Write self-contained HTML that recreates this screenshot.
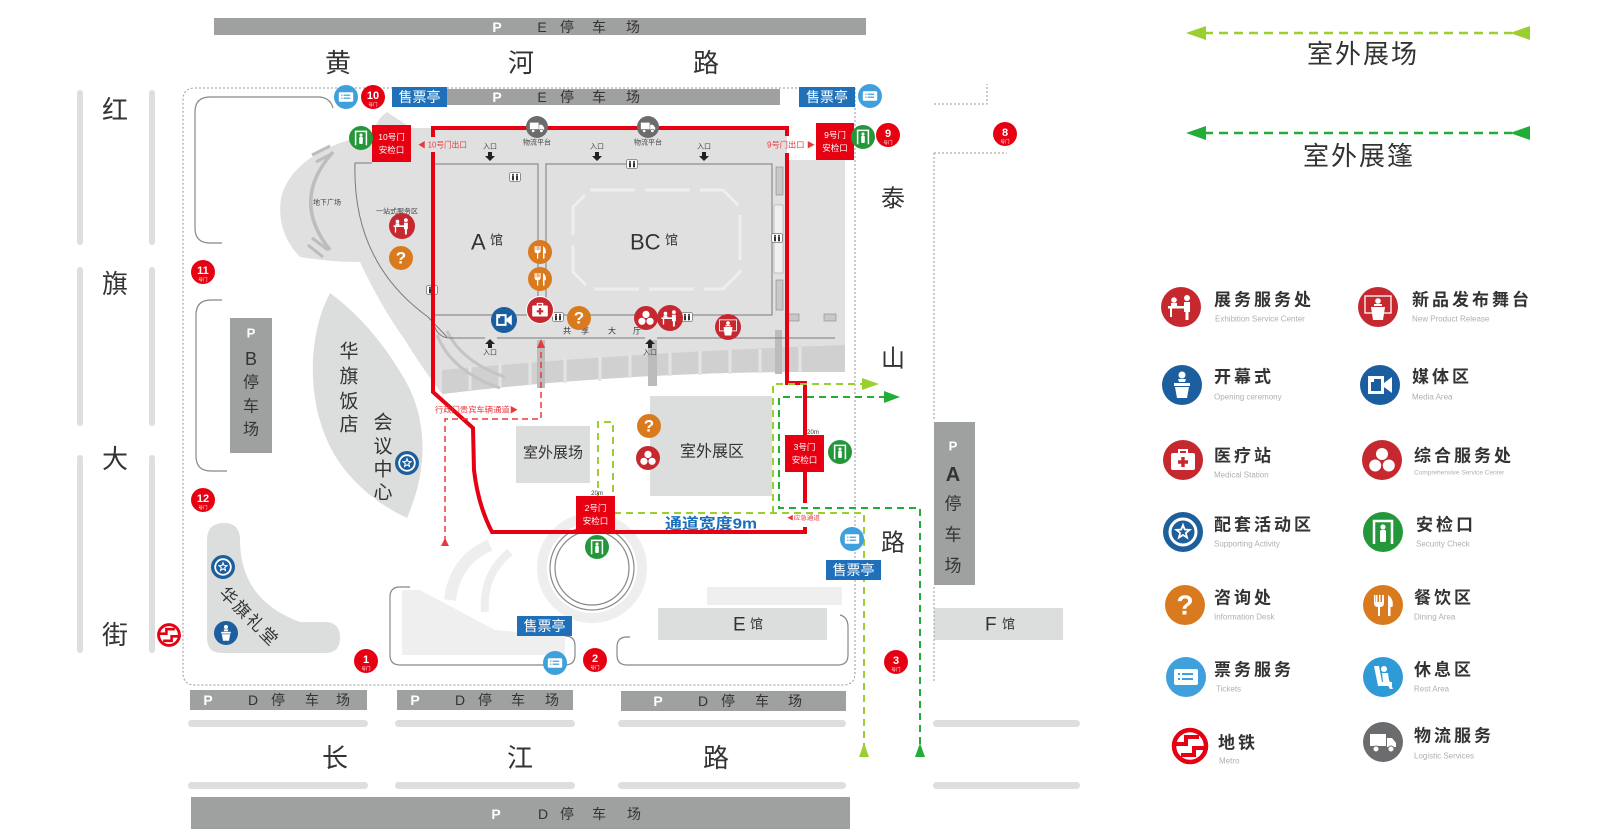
<!DOCTYPE html>
<html><head><meta charset="utf-8"><style>
html,body{margin:0;padding:0;background:#fff;}
svg{display:block;font-family:"Liberation Sans","Noto Sans CJK SC",sans-serif;}
</style></head><body>
<svg width="1600" height="834" viewBox="0 0 1600 834" xmlns="http://www.w3.org/2000/svg">
<defs>
<symbol id="exh" viewBox="-20 -20 40 40"><circle r="20" fill="#c5282e"/><rect x="-13" y="-1" width="17" height="2.5" fill="#fff"/><rect x="-11" y="1" width="2" height="9" fill="#fff"/><circle cx="-7" cy="-7" r="2.8" fill="#fff"/><path d="M-10 -4 h6 v3 h-6z" fill="#fff"/><circle cx="6" cy="-9" r="3" fill="#fff"/><path d="M3 -5 h6 v10 h-1.5 v8 h-3 v-8 h-1.5z" fill="#fff"/></symbol>
<symbol id="stage" viewBox="-20 -20 40 40"><circle r="20" fill="#c5282e"/><rect x="-13" y="-11" width="26" height="17" fill="none" stroke="#fff" stroke-width="1.3"/><circle cy="-6" r="2.8" fill="#fff"/><path d="M-4 -3 h8 v2 h-8z" fill="#fff"/><path d="M-7 0 H7 L5 13 H-5Z" fill="#fff"/></symbol>
<symbol id="open" viewBox="-20 -20 40 40"><circle r="20" fill="#1d5e9e"/><circle cy="-10" r="3.5" fill="#fff"/><path d="M-4 -6 L4 -6 L3 -3 H-3Z" fill="#fff"/><path d="M-8 -2 H8 V1 H-8Z" fill="#fff"/><path d="M-7 2 H7 L5 13 H-5Z" fill="#fff"/></symbol>
<symbol id="media" viewBox="-20 -20 40 40"><circle r="20" fill="#1b5e9f"/><rect x="-12" y="-9" width="16" height="18" fill="#fff"/><rect x="-9" y="-6" width="10" height="12" fill="#1b5e9f"/><rect x="-9" y="-6" width="3" height="3" fill="#fff"/><path d="M4 -2 L12 -8 V8 L4 2Z" fill="#fff"/></symbol>
<symbol id="med" viewBox="-20 -20 40 40"><circle r="20" fill="#c5282e"/><path d="M-4 -7 V-10 H4 V-7" fill="none" stroke="#fff" stroke-width="2"/><rect x="-12" y="-7" width="24" height="17" rx="2" fill="#fff"/><path d="M-1.7 -3 h3.4 v3.3 h3.3 v3.4 h-3.3 v3.3 h-3.4 v-3.3 h-3.3 v-3.4 h3.3z" fill="#c5282e"/></symbol>
<symbol id="comp" viewBox="-20 -20 40 40"><circle r="20" fill="#c5282e"/><g fill="#fff" stroke="#c5282e" stroke-width="1"><circle cy="-6" r="6.5"/><circle cx="-6.8" cy="5.5" r="6.5"/><circle cx="6.8" cy="5.5" r="6.5"/></g></symbol>
<symbol id="star" viewBox="-20 -20 40 40"><circle r="20" fill="#1d5e9c"/><circle r="13" fill="none" stroke="#fff" stroke-width="3"/><polygon points="0,-7 1.76,-2.43 6.66,-2.16 2.85,0.93 4.11,5.66 0,3 -4.11,5.66 -2.85,0.93 -6.66,-2.16 -1.76,-2.43" fill="none" stroke="#fff" stroke-width="1.8"/></symbol>
<symbol id="sec" viewBox="-20 -20 40 40"><circle r="20" fill="#25973b"/><path d="M-9 12 V-11 H9 V12" fill="none" stroke="#fff" stroke-width="2.5"/><circle cy="-5" r="2.6" fill="#fff"/><rect x="-3" y="-2" width="6" height="12" rx="1.5" fill="#fff"/></symbol>
<symbol id="qc" viewBox="-20 -20 40 40"><circle r="20" fill="#d97a1f"/></symbol>
<symbol id="dine" viewBox="-20 -20 40 40"><circle r="20" fill="#d97a1f"/><path d="M-9 -10 V-2 Q-9 2 -5 2 V11 H-3 V2 Q1 2 1 -2 V-10 H-1 V-3 H-2.5 V-10 H-4 V-3 H-5.5 V-10 H-7 V-3 H-7.5 V-10Z" fill="#fff"/><path d="M5 -10 Q11 -6 9.5 2 H7.5 V11 H5 Z" fill="#fff"/></symbol>
<symbol id="tick" viewBox="-20 -20 40 40"><circle r="20" fill="#3fa0db"/><rect x="-12" y="-8" width="24" height="16" rx="2" fill="#fff"/><g fill="#3fa0db"><rect x="-8" y="-4" width="2" height="2"/><rect x="-8" y="1" width="2" height="2"/><rect x="-4" y="-4" width="11" height="2"/><rect x="-4" y="1" width="11" height="2"/></g></symbol>
<symbol id="rest" viewBox="-20 -20 40 40"><circle r="20" fill="#2e9bd6"/><path d="M-9 -11 L-5 9 H9 V5 H-1 L-4 -11Z" fill="#fff"/><circle cx="1" cy="-8" r="3" fill="#fff"/><path d="M-1 -4 L5 -4 L6 3 L10 12 H7 L3 5 H0Z" fill="#fff"/></symbol>
<symbol id="truck" viewBox="-20 -20 40 40"><circle r="20" fill="#6b6c6e"/><rect x="-13" y="-8" width="16" height="12" fill="#fff"/><path d="M4 -4 H9 L13 1 V5 H4Z" fill="#fff"/><circle cx="-7" cy="7" r="3" fill="#fff" stroke="#6b6c6e" stroke-width="1"/><circle cx="8" cy="7" r="3" fill="#fff" stroke="#6b6c6e" stroke-width="1"/></symbol>
<symbol id="metro" viewBox="-20 -20 40 40"><circle r="16" fill="#fff" stroke="#e60012" stroke-width="4.5"/><path d="M-18 -2 H-4 V-9 H9" fill="none" stroke="#e60012" stroke-width="4"/><path d="M18 2 H4 V9 H-9" fill="none" stroke="#e60012" stroke-width="4"/></symbol>
<symbol id="wc" viewBox="-6 -5 12 10"><rect x="-5.5" y="-4.5" width="11" height="9" rx="2" fill="#fff" stroke="#777" stroke-width="0.8"/><g fill="#333"><circle cx="-2" cy="-2.3" r="1"/><rect x="-3" y="-1.2" width="2" height="4.5"/><circle cx="2" cy="-2.3" r="1"/><rect x="1" y="-1.2" width="2" height="4.5"/></g></symbol>
</defs>
<rect width="1600" height="834" fill="#fff"/>

<!-- top parking -->
<rect x="214" y="18" width="652" height="17" fill="#9fa0a0"/>
<g font-size="14" fill="#333" text-anchor="middle" dominant-baseline="central">
<text x="497" y="27" fill="#fff" font-weight="bold">P</text><text x="542" y="27">E</text><text x="567" y="27">停</text><text x="599" y="27">车</text><text x="633" y="27">场</text>
</g>

<!-- road names -->
<g font-size="26" fill="#333" text-anchor="middle" dominant-baseline="central">
<text x="338" y="63">黄</text><text x="521" y="63">河</text><text x="706" y="63">路</text>
<text x="115" y="110">红</text><text x="115" y="284">旗</text><text x="115" y="459">大</text><text x="115" y="635">街</text>
<text x="335" y="758">长</text><text x="520" y="758">江</text><text x="716" y="758">路</text>
<text x="893" y="199" font-size="24">泰</text><text x="893" y="359" font-size="24">山</text><text x="893" y="543" font-size="24">路</text>
</g>

<!-- left road bars -->
<g fill="#dedede">
<rect x="77" y="90" width="6" height="155" rx="3"/><rect x="77" y="267" width="6" height="159" rx="3"/><rect x="77" y="455" width="6" height="198" rx="3"/>
<rect x="149" y="90" width="6" height="155" rx="3"/><rect x="149" y="267" width="6" height="159" rx="3"/><rect x="149" y="455" width="6" height="198" rx="3"/>
<rect x="188" y="720" width="180" height="7" rx="3.5"/><rect x="395" y="720" width="180" height="7" rx="3.5"/><rect x="618" y="720" width="228" height="7" rx="3.5"/><rect x="933" y="720" width="147" height="7" rx="3.5"/>
<rect x="188" y="782" width="180" height="7" rx="3.5"/><rect x="395" y="782" width="180" height="7" rx="3.5"/><rect x="618" y="782" width="228" height="7" rx="3.5"/><rect x="933" y="782" width="147" height="7" rx="3.5"/>
</g>

<!-- main gray region -->
<path d="M372 132 L380 118 L387 112 L396 118 L411 128 L787 128 L787 160 L845 160 L845 372 Q640 370 442 394 Q420 365 405 340 Q380 305 360 262 Q330 262 300 257 Q276 232 281 198 Q290 162 340 143 Z" fill="#e0e0e0"/>
<path d="M333 152 Q290 200 330 250" fill="none" stroke="#bdbdbd" stroke-width="3.5"/>
<path d="M312 155 L330 146 M316 162 L333 153 M312 238 L328 250 M308 245 L323 257" stroke="#bdbdbd" stroke-width="3"/>
<!-- steps band -->
<path d="M442 370 Q640 352 845 345 L845 372 Q640 370 442 394 Z" fill="#d0d0d0"/>
<g stroke="#e4e4e4" stroke-width="3">
<path d="M470 366 V390 M500 363 V387 M530 360 V385 M565 358 V383 M600 356 V381 M630 354 V378 M670 352 V376 M700 351 V375 M730 350 V374 M760 349 V373 M800 347 V372"/>
</g>
<path d="M437 335 Q452 372 500 388 M447 331 Q462 362 505 377" fill="none" stroke="#c4c4c4" stroke-width="3"/>
<g fill="#bcbcbc"><rect x="537" y="340" width="8" height="48"/><rect x="648" y="340" width="9" height="46"/><rect x="775" y="330" width="7" height="44"/></g>

<!-- halls outlines -->
<g fill="none" stroke="#7a7a7a" stroke-width="1">
<path d="M435 164 H538 V315"/>
<rect x="546" y="164" width="226" height="151"/>
<path d="M433 315 H772"/>
<path d="M433 322 Q437 338 450 338 H485 M497 338 H645 M657 338 H835"/>
<path d="M372 163 H355 Q352 262 428 317 L447 337"/>
</g>
<path d="M590 190 H723 L740 207 V272 L723 289 H590 L573 272 V207 Z" fill="none" stroke="#eeeeee" stroke-width="3" stroke-dasharray="45 10"/>
<g fill="#c8c8c8" stroke="#888" stroke-width="0.6"><rect x="776" y="167" width="7" height="28"/><rect x="776" y="280" width="7" height="30"/><rect x="787" y="314" width="12" height="7"/><rect x="824" y="314" width="12" height="7"/></g>
<rect x="774" y="205" width="9" height="68" fill="#efefef" stroke="#999" stroke-width="0.5"/>

<!-- small texts -->
<g font-size="7" fill="#444" text-anchor="middle" dominant-baseline="central">
<text x="327" y="203">地下广场</text><text x="397" y="212">一站式服务区</text>
<text x="537" y="143">物流平台</text><text x="648" y="143">物流平台</text>
<text x="490" y="147">入口</text><text x="597" y="147">入口</text><text x="704" y="147">入口</text>
<text x="490" y="353">入口</text><text x="650" y="353">入口</text>
</g>
<g font-size="8" fill="#333" text-anchor="middle" dominant-baseline="central">
<text x="567" y="331">共</text><text x="585" y="331">享</text><text x="612" y="331">大</text><text x="637" y="331">厅</text>
</g>
<g fill="#222">
<polygon points="488,152 492,152 492,156 495,156 490,161 485,156 488,156"/>
<polygon points="595,152 599,152 599,156 602,156 597,161 592,156 595,156"/>
<polygon points="702,152 706,152 706,156 709,156 704,161 699,156 702,156"/>
<polygon points="490,339 495,344 492,344 492,348 488,348 488,344 485,344"/>
<polygon points="650,339 655,344 652,344 652,348 648,348 648,344 645,344"/>
</g>
<g>
<use href="#wc" x="509" y="172" width="12" height="10"/><use href="#wc" x="626" y="159" width="12" height="10"/><use href="#wc" x="426" y="285" width="12" height="10"/><use href="#wc" x="552" y="312" width="12" height="10"/><use href="#wc" x="681" y="312" width="12" height="10"/><use href="#wc" x="771" y="233" width="12" height="10"/>
</g>
<g font-size="18" fill="#333" dominant-baseline="central">
<text x="471" y="242" font-size="22">A</text><text x="490" y="240" font-size="13">馆</text>
<text x="630" y="242" font-size="22">BC</text><text x="665" y="240" font-size="13">馆</text>
</g>

<!-- leaf hotel -->
<path d="M330 293 C305 340 305 420 345 470 C365 495 390 510 407 518 C428 470 428 420 405 380 C385 345 360 315 330 293 Z" fill="#dcdddd"/>
<g font-size="19" fill="#333" text-anchor="middle" dominant-baseline="central">
<text x="349" y="352">华</text><text x="349" y="377">旗</text><text x="349" y="402">饭</text><text x="349" y="425">店</text>
<text x="383" y="423">会</text><text x="383" y="447">议</text><text x="383" y="470">中</text><text x="383" y="493">心</text>
</g>

<!-- 华旗礼堂 -->
<path d="M207 540 Q207 523 224 523 Q240 523 240 540 Q240 600 300 622 H325 Q340 622 340 638 Q340 653 325 653 H222 Q207 653 207 638 Z" fill="#dcdddd"/>
<text transform="translate(249,617) rotate(45)" font-size="17" fill="#333" text-anchor="middle" dominant-baseline="central" letter-spacing="2">华旗礼堂</text>

<!-- brackets -->
<g fill="none" stroke="#888" stroke-width="1.2">
<path d="M333 108 Q330 97 318 97 H210 Q195 97 195 112 V228 Q195 243 210 243 H222"/>
<path d="M222 300 H211 Q196 300 196 315 V456 Q196 471 211 471 H227"/>
<path d="M410 587 H400 Q390 587 390 597 V655 Q390 665 400 665 H565 Q575 665 575 655 V646 Q575 636 565 636"/>
<path d="M630 637 H627 Q617 637 617 647 V655 Q617 665 627 665 H838 Q848 665 848 655 V627 Q848 617 840 615"/>
</g>

<!-- light swirl shapes -->
<path d="M402 590 L420 590 L495 630 L565 636 L565 655 L402 655 Z" fill="#efefef"/>
<g fill="none" stroke="#eeeeee">
<path d="M490 545 Q455 560 450 600" stroke-width="12"/>
<path d="M510 552 Q482 575 485 612" stroke-width="8"/>
<circle cx="592" cy="568" r="50" stroke-width="10"/>
</g>
<circle cx="592" cy="568" r="42" fill="#fff" stroke="#888" stroke-width="1.2"/>
<circle cx="592" cy="568" r="37" fill="none" stroke="#888" stroke-width="1.2"/>

<!-- outdoor boxes -->
<rect x="516" y="426" width="74" height="57" fill="#dcdddd"/>
<rect x="650" y="396" width="122" height="100" fill="#dcdddd"/>
<g font-size="15" fill="#333" text-anchor="middle" dominant-baseline="central">
<text x="553" y="453">室外展场</text><text x="712" y="452" font-size="16">室外展区</text>
</g>

<!-- E/F halls -->
<rect x="707" y="587" width="135" height="18" fill="#efefef"/>
<rect x="658" y="608" width="169" height="32" fill="#dcdddd"/>
<rect x="934" y="608" width="129" height="32" fill="#dcdddd"/>
<g fill="#333" dominant-baseline="central">
<text x="733" y="625" font-size="19">E</text><text x="750" y="624" font-size="13">馆</text>
<text x="985" y="625" font-size="19">F</text><text x="1002" y="624" font-size="13">馆</text>
</g>

<!-- boundary dotted -->
<g fill="none" stroke="#999" stroke-width="1" stroke-dasharray="2 2">
<path d="M195 88 H855 V673 Q855 685 843 685 H195 Q183 685 183 673 V100 Q183 88 195 88"/>
<path d="M934 104 H987 V84"/>
<path d="M934 153 H1007 M934 153 V420 M934 587 V683"/>
</g>

<!-- second top parking -->
<rect x="447" y="89" width="333" height="16" fill="#9fa0a0"/>
<g font-size="14" fill="#333" text-anchor="middle" dominant-baseline="central">
<text x="497" y="97" fill="#fff" font-weight="bold">P</text><text x="542" y="97">E</text><text x="567" y="97">停</text><text x="599" y="97">车</text><text x="633" y="97">场</text>
</g>

<!-- B and A parking -->
<rect x="230" y="318" width="42" height="135" fill="#9fa0a0"/>
<rect x="934" y="422" width="41" height="163" fill="#9fa0a0"/>
<g fill="#333" text-anchor="middle" dominant-baseline="central">
<text x="251" y="333" font-size="13" fill="#fff" font-weight="bold">P</text><text x="251" y="359" font-size="18">B</text><text x="251" y="383" font-size="16">停</text><text x="251" y="407" font-size="16">车</text><text x="251" y="430" font-size="16">场</text>
<text x="953" y="446" font-size="13" fill="#fff" font-weight="bold">P</text><text x="953" y="475" font-size="20" font-weight="bold">A</text><text x="953" y="504" font-size="17">停</text><text x="953" y="535" font-size="17">车</text><text x="953" y="566" font-size="17">场</text>
</g>

<!-- bottom parkings -->
<rect x="190" y="690" width="177" height="20" fill="#9fa0a0"/>
<rect x="397" y="690" width="176" height="20" fill="#9fa0a0"/>
<rect x="621" y="691" width="225" height="20" fill="#9fa0a0"/>
<rect x="191" y="797" width="659" height="32" fill="#9fa0a0"/>
<g font-size="14" fill="#333" text-anchor="middle" dominant-baseline="central">
<text x="208" y="700" fill="#fff" font-weight="bold">P</text><text x="253" y="700">D</text><text x="278" y="700">停</text><text x="312" y="700">车</text><text x="343" y="700">场</text>
<text x="415" y="700" fill="#fff" font-weight="bold">P</text><text x="460" y="700">D</text><text x="485" y="700">停</text><text x="518" y="700">车</text><text x="552" y="700">场</text>
<text x="658" y="701" fill="#fff" font-weight="bold">P</text><text x="703" y="701">D</text><text x="728" y="701">停</text><text x="762" y="701">车</text><text x="795" y="701">场</text>
<text x="496" y="814" fill="#fff" font-weight="bold">P</text><text x="543" y="814">D</text><text x="567" y="814">停</text><text x="599" y="814">车</text><text x="634" y="814">场</text>
</g>

<!-- red route -->
<g fill="none" stroke="#e60012" stroke-width="4">
<path d="M433 137 V128 H787 V136"/>
<path d="M787 153 V383 H805 V503"/>
<path d="M805 527 V532 H492 Q478 505 474 470 L473 428 L433 392 V152"/>
</g>
<!-- VIP dashed -->
<path d="M541 352 V419 H445 V540" fill="none" stroke="#e8383d" stroke-width="1.5" stroke-dasharray="6 4"/>
<polygon points="541,339 537,348 545,348" fill="#e8383d"/>
<polygon points="445,538 441,546 449,546" fill="#e8383d"/>
<g fill="#e8383d" font-size="8" dominant-baseline="central">
<text x="435" y="410" textLength="83" lengthAdjust="spacingAndGlyphs">行政门贵宾车辆通道▶</text>
<text x="418" y="145" textLength="49" lengthAdjust="spacingAndGlyphs">◀ 10号门出口</text>
<text x="767" y="145" textLength="48" lengthAdjust="spacingAndGlyphs">9号门出口 ▶</text>
<text x="787" y="519" font-size="6" textLength="33" lengthAdjust="spacingAndGlyphs">◀应急通道</text>
</g>

<!-- green routes -->
<g fill="none" stroke-width="2" stroke-dasharray="7 5">
<path d="M864 750 V513 H598 V422 H613 V513" stroke="#9bcf2f"/>
<path d="M773 513 V384 H864" stroke="#9bcf2f"/>
<path d="M886 397 H779 V508 H920 V750" stroke="#22ac38"/>
</g>
<polygon points="879,384 862,378 862,390" fill="#9bcf2f"/>
<polygon points="900,397 884,391 884,403" fill="#22ac38"/>
<polygon points="864,743 859,757 869,757" fill="#9bcf2f"/>
<polygon points="920,743 915,757 925,757" fill="#22ac38"/>
<g font-size="6" fill="#333" text-anchor="middle"><text x="813" y="434">20m</text><text x="597" y="495">20m</text></g>
<text x="711" y="524" font-size="15" font-weight="bold" fill="#1a6fba" text-anchor="middle" dominant-baseline="central" textLength="92" lengthAdjust="spacingAndGlyphs">通道宽度9m</text>

<!-- security boxes -->
<g fill="#e60012"><rect x="372" y="125" width="39" height="37"/><rect x="816" y="123" width="38" height="37"/><rect x="785" y="435" width="39" height="37"/><rect x="576" y="496" width="39" height="37"/></g>
<g fill="#fff" font-size="8.5" text-anchor="middle" dominant-baseline="central">
<text x="391.5" y="137">10号门</text><text x="391.5" y="150">安检口</text>
<text x="835" y="135">9号门</text><text x="835" y="148">安检口</text>
<text x="804.5" y="447">3号门</text><text x="804.5" y="460">安检口</text>
<text x="595.5" y="508">2号门</text><text x="595.5" y="521">安检口</text>
</g>

<!-- ticket booths -->
<g fill="#1f70b8"><rect x="392" y="87" width="55" height="20"/><rect x="799" y="87" width="56" height="20"/><rect x="826" y="560" width="55" height="20"/><rect x="517" y="616" width="55" height="20"/></g>
<g fill="#fff" font-size="14" text-anchor="middle" dominant-baseline="central">
<text x="419.5" y="97">售票亭</text><text x="827" y="97">售票亭</text><text x="853.5" y="570">售票亭</text><text x="544.5" y="626">售票亭</text>
</g>

<!-- map icons -->
<use href="#tick" x="334" y="85" width="24" height="24"/><use href="#tick" x="858" y="84" width="24" height="24"/><use href="#tick" x="840" y="527" width="24" height="24"/><use href="#tick" x="543" y="651" width="24" height="24"/>
<use href="#sec" x="349" y="126" width="24" height="24"/><use href="#sec" x="851" y="125" width="24" height="24"/><use href="#sec" x="828" y="440" width="24" height="24"/><use href="#sec" x="585" y="535" width="24" height="24"/>
<use href="#exh" x="389" y="213" width="26" height="26"/><use href="#exh" x="657" y="305" width="26" height="26"/>
<use href="#dine" x="528" y="240" width="24" height="24"/><use href="#dine" x="528" y="267" width="24" height="24"/>
<circle cx="540" cy="310" r="14" fill="#fff"/><use href="#med" x="527" y="297" width="26" height="26"/>
<use href="#media" x="491" y="307" width="26" height="26"/>
<use href="#comp" x="634" y="306" width="24" height="24"/><use href="#comp" x="636" y="446" width="24" height="24"/>
<use href="#stage" x="715" y="314" width="26" height="26"/>
<use href="#star" x="395" y="451" width="24" height="24"/><use href="#star" x="211" y="555" width="24" height="24"/>
<use href="#open" x="214" y="621" width="24" height="24"/>
<use href="#metro" x="156" y="622" width="26" height="26"/>
<use href="#truck" x="526" y="116" width="22" height="22"/><use href="#truck" x="637" y="116" width="22" height="22"/>
<use href="#qc" x="389" y="246" width="24" height="24"/><use href="#qc" x="567" y="306" width="24" height="24"/><use href="#qc" x="637" y="414" width="24" height="24"/>
<g fill="#fff" font-size="17" font-weight="bold" text-anchor="middle" dominant-baseline="central">
<text x="401" y="258">?</text><text x="579" y="318">?</text><text x="649" y="426">?</text>
</g>

<!-- gate circles -->
<g fill="#e60012">
<circle cx="373" cy="97" r="12"/><circle cx="888" cy="135" r="12"/><circle cx="1005" cy="134" r="12"/><circle cx="203" cy="272" r="12"/><circle cx="203" cy="500" r="12"/><circle cx="366" cy="661" r="12"/><circle cx="595" cy="660" r="12"/><circle cx="896" cy="662" r="12"/>
</g>
<g fill="#fff" text-anchor="middle" font-weight="bold" font-size="11">
<text x="373" y="99">10</text><text x="888" y="137">9</text><text x="1005" y="136">8</text><text x="203" y="274">11</text><text x="203" y="502">12</text><text x="366" y="663">1</text><text x="595" y="662">2</text><text x="896" y="664">3</text>
</g>
<g fill="#fff" text-anchor="middle" font-size="4.5">
<text x="373" y="106">号门</text><text x="888" y="144">号门</text><text x="1005" y="143">号门</text><text x="203" y="281">号门</text><text x="203" y="509">号门</text><text x="366" y="670">号门</text><text x="595" y="669">号门</text><text x="896" y="671">号门</text>
</g>

<!-- top-right arrows -->
<path d="M1204 33 H1512" stroke="#9bcf2f" stroke-width="2.5" stroke-dasharray="9 6"/>
<polygon points="1186,33 1206,26 1206,40" fill="#9bcf2f"/><polygon points="1510,33 1530,26 1530,40" fill="#9bcf2f"/>
<path d="M1204 133 H1512" stroke="#22ac38" stroke-width="2.5" stroke-dasharray="9 6"/>
<polygon points="1186,133 1206,126 1206,140" fill="#22ac38"/><polygon points="1510,133 1530,126 1530,140" fill="#22ac38"/>
<g font-size="26" fill="#333" text-anchor="middle" dominant-baseline="central" letter-spacing="2">
<text x="1363" y="54">室外展场</text><text x="1359" y="156">室外展篷</text>
</g>

<!-- legend -->
<use href="#exh" x="1161" y="287" width="40" height="40"/><use href="#stage" x="1358" y="287" width="40" height="40"/>
<use href="#open" x="1162" y="365" width="40" height="40"/><use href="#media" x="1360" y="365" width="40" height="40"/>
<use href="#med" x="1163" y="440" width="40" height="40"/><use href="#comp" x="1362" y="440" width="40" height="40"/>
<use href="#star" x="1163" y="512" width="40" height="40"/><use href="#sec" x="1363" y="512" width="40" height="40"/>
<use href="#qc" x="1165" y="585" width="40" height="40"/><use href="#dine" x="1363" y="585" width="40" height="40"/>
<use href="#tick" x="1166" y="657" width="40" height="40"/><use href="#rest" x="1363" y="657" width="40" height="40"/>
<use href="#metro" x="1170" y="726" width="40" height="40"/><use href="#truck" x="1363" y="722" width="40" height="40"/>
<text x="1185" y="605" fill="#fff" font-size="28" font-weight="bold" text-anchor="middle" dominant-baseline="central">?</text>

<g font-size="17" font-weight="bold" fill="#333" dominant-baseline="central" letter-spacing="3">
<text x="1214" y="300">展务服务处</text><text x="1412" y="300">新品发布舞台</text>
<text x="1214" y="377">开幕式</text><text x="1412" y="377">媒体区</text>
<text x="1214" y="456">医疗站</text><text x="1414" y="456">综合服务处</text>
<text x="1214" y="525">配套活动区</text><text x="1416" y="525">安检口</text>
<text x="1214" y="598">咨询处</text><text x="1414" y="598">餐饮区</text>
<text x="1214" y="670">票务服务</text><text x="1414" y="670">休息区</text>
<text x="1218" y="743">地铁</text><text x="1414" y="736">物流服务</text>
</g>
<g font-size="8" fill="#b0b0b0" dominant-baseline="central">
<text x="1215" y="319">Exhibition Service Center</text><text x="1412" y="319">New Product Release</text>
<text x="1214" y="397">Opening ceremony</text><text x="1412" y="397">Media Area</text>
<text x="1214" y="475">Medical Station</text><text x="1414" y="473" font-size="6.5">Comprehensive Service Center</text>
<text x="1214" y="544">Supporting Activity</text><text x="1416" y="544">Security Check</text>
<text x="1214" y="617">Information Desk</text><text x="1414" y="617">Dining Area</text>
<text x="1216" y="689">Tickets</text><text x="1414" y="689">Rest Area</text>
<text x="1219" y="761">Metro</text><text x="1414" y="756">Logistic Services</text>
</g>
</svg>
</body></html>
